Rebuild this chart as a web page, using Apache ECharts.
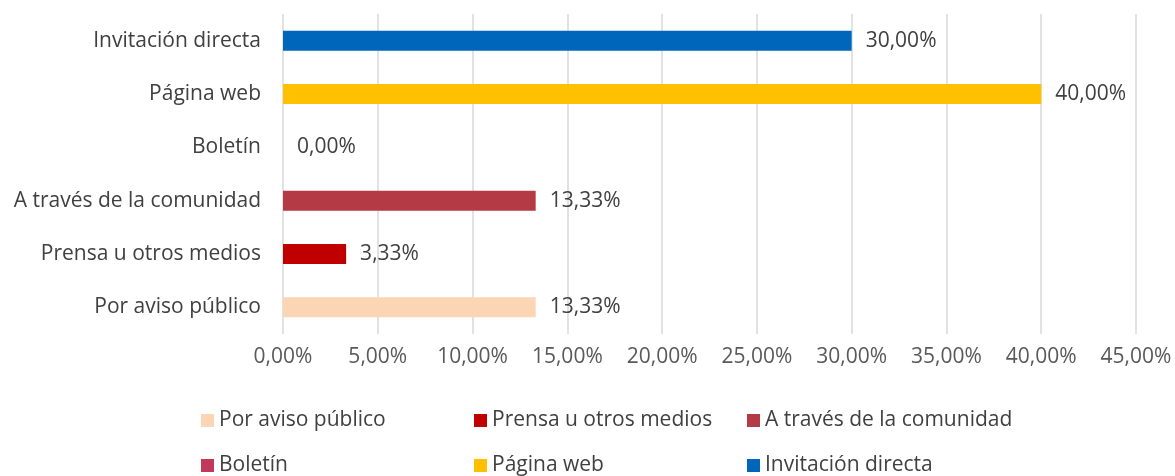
<!DOCTYPE html>
<html>
<head>
<meta charset="utf-8">
<script src="https://cdn.jsdelivr.net/npm/echarts@6/dist/echarts.min.js"></script>
<style>
  html, body { margin: 0; padding: 0; background: #fff; }
  #chart { width: 1175px; height: 476px; }
</style>
</head>
<body>
<div id="chart"></div>
<script>
// categorías, de abajo hacia arriba
const categories = ["Por aviso público", "Prensa u otros medios", "A través de la comunidad", "Boletín", "Página web", "Invitación directa"];
const values = [13.33, 3.33, 13.33, 0, 40, 30];
const barColors = ["#FCD5B4", "#C00000", "#B43A45", "#C0395A", "#FFC000", "#0066BB"];
const xTicks = [0, 5, 10, 15, 20, 25, 30, 35, 40, 45];

const fmt = (v) => v.toFixed(2).replace(".", ",") + "%";
const font = "'Open Sans', 'Noto Sans', sans-serif";
const fs = 21;

const chart = echarts.init(document.getElementById("chart"));

const series = categories.map((name, i) => ({
  name: name,
  type: "bar",
  stack: "total",
  barWidth: 20,
  itemStyle: { color: barColors[i] },
  label: {
    show: true,
    position: "right",
    distance: 14,
    color: "#404040",
    fontFamily: font,
    fontSize: fs,
    formatter: (p) => fmt(p.value),
  },
  data: categories.map((c, j) => (j === i ? values[i] : "-")),
}));

// una leyenda por elemento, en rejilla de 3 columnas
const legendCols = [196, 469, 742];
const legendRows = [405, 450];
const legends = categories.map((name, i) => ({
  data: [name],
  left: legendCols[i % 3],
  top: legendRows[Math.floor(i / 3)],
  itemWidth: 13,
  itemHeight: 13,
  icon: "rect",
  textStyle: {
    color: "#404040",
    fontFamily: font,
    fontSize: fs,
    padding: [0, 0, 0, 0],
  },
}));

const option = {
  animation: false,
  textStyle: { fontFamily: font },
  grid: { left: 283, right: 39, top: 14, bottom: 142 },
  xAxis: {
    type: "value",
    min: xTicks[0],
    max: xTicks[xTicks.length - 1],
    interval: 5,
    axisLine: { show: false },
    axisTick: { show: false },
    splitLine: { lineStyle: { color: "#D9D9D9", width: 1.5 } },
    axisLabel: {
      color: "#595959",
      fontSize: fs,
      margin: 13,
      formatter: (v) => fmt(v),
    },
  },
  yAxis: {
    type: "category",
    data: categories,
    axisLine: { show: false },
    axisTick: { show: false },
    axisLabel: { color: "#404040", fontSize: fs, margin: 22 },
  },
  legend: legends,
  series: series,
};

chart.setOption(option);
</script>
</body>
</html>
